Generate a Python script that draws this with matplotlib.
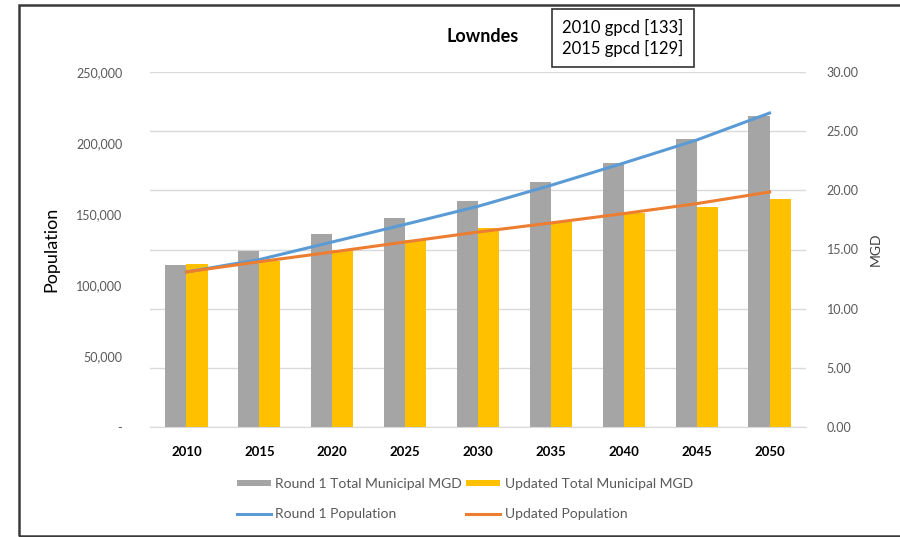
import matplotlib.pyplot as plt
import matplotlib.patches as mpatches
from matplotlib.ticker import FuncFormatter
import numpy as np

plt.rcParams['font.family'] = ['Lato', 'DejaVu Sans']

years = ['2010', '2015', '2020', '2025', '2030', '2035', '2040', '2045', '2050']
round1_mgd = [13.7, 14.9, 16.3, 17.7, 19.1, 20.7, 22.3, 24.3, 26.3]
updated_mgd = [13.8, 14.0, 15.0, 15.8, 16.8, 17.3, 18.1, 18.6, 19.3]
round1_pop = [109200, 117900, 130300, 142700, 155400, 170200, 185900, 202100, 221100]
updated_pop = [109200, 116400, 123200, 130300, 137300, 143700, 150300, 157300, 165500]

grey = '#A5A5A5'
gold = '#FFC000'
blue = '#5B9BD5'
orange = '#ED7D31'
txt = '#595959'

fig = plt.figure(figsize=(9, 5.37), dpi=100)
ax = fig.add_axes([150/900, 1-427/537, 656/900, 355/537])

x = np.arange(len(years))
w = 0.29
b1 = ax.bar(x - w/2, round1_mgd, w, color=grey, label='Round 1 Total Municipal MGD')
b2 = ax.bar(x + w/2, updated_mgd, w, color=gold, label='Updated Total Municipal MGD')
ax.set_ylim(0, 30)
ax.set_xlim(-0.5, len(years) - 0.5)
ax.grid(axis='y', color='#D9D9D9', linewidth=1)
ax.set_axisbelow(True)
ax.set_xticks(x)
ax.set_xticklabels(years, fontweight='bold', fontsize=9.5, color='black')
ax.tick_params(axis='x', length=0, pad=14)
for s in ['top', 'left', 'right']:
    ax.spines[s].set_visible(False)
ax.spines['bottom'].set_color('#D9D9D9')

ax2 = ax.twinx()
l1, = ax2.plot(x, round1_pop, color=blue, linewidth=2.2, label='Round 1 Population')
l2, = ax2.plot(x, updated_pop, color=orange, linewidth=2.2, label='Updated Population')
ax2.set_ylim(0, 250000)
ax2.set_yticks(np.arange(0, 250001, 50000))
ax2.yaxis.set_major_formatter(FuncFormatter(lambda v, p: '-' if v == 0 else '{:,.0f}'.format(v)))
ax2.yaxis.tick_left()
ax2.yaxis.set_label_position('left')
ax2.set_ylabel('Population', fontsize=13, color='black', labelpad=12)
ax2.tick_params(axis='y', length=0, pad=20, labelsize=9, labelcolor=txt)
for s in ['top', 'left', 'right', 'bottom']:
    ax2.spines[s].set_visible(False)

# right axis (MGD) for the bars, set after twinx so it stays on the right
ax.yaxis.tick_right()
ax.yaxis.set_label_position('right')
ax.set_yticks(np.arange(0, 31, 5))
ax.yaxis.set_major_formatter(FuncFormatter(lambda v, p: '%.2f' % v))
ax.set_ylabel('MGD', fontsize=10, color='#404040', labelpad=8)
ax.tick_params(axis='y', length=0, pad=15, labelsize=9, labelcolor=txt)

fig.text(483/900, 1-37/537, 'Lowndes', ha='center', va='center', fontsize=13, fontweight='bold')
fig.text(623/900, 1-38/537, '2010 gpcd [133]\n2015 gpcd [129]', ha='center', va='center',
         fontsize=12, linespacing=1.3,
         bbox=dict(boxstyle='square,pad=0.6', facecolor='white', edgecolor='#333333', linewidth=1.2))

fig.legend(handles=[b1, l1, b2, l2], ncol=2, loc='center', bbox_to_anchor=(465/900, 1-499/537),
           frameon=False, fontsize=10, labelcolor=txt, handlelength=2.4, handleheight=0.35,
           handletextpad=0.35, columnspacing=0.3, labelspacing=1.3)

fig.patches.append(mpatches.Rectangle((19/900, 1-536/537), 1.0, 531/537, transform=fig.transFigure,
                                      fill=False, edgecolor='#3a3a3a', linewidth=1.8))

fig.savefig('out.png', dpi=100)
